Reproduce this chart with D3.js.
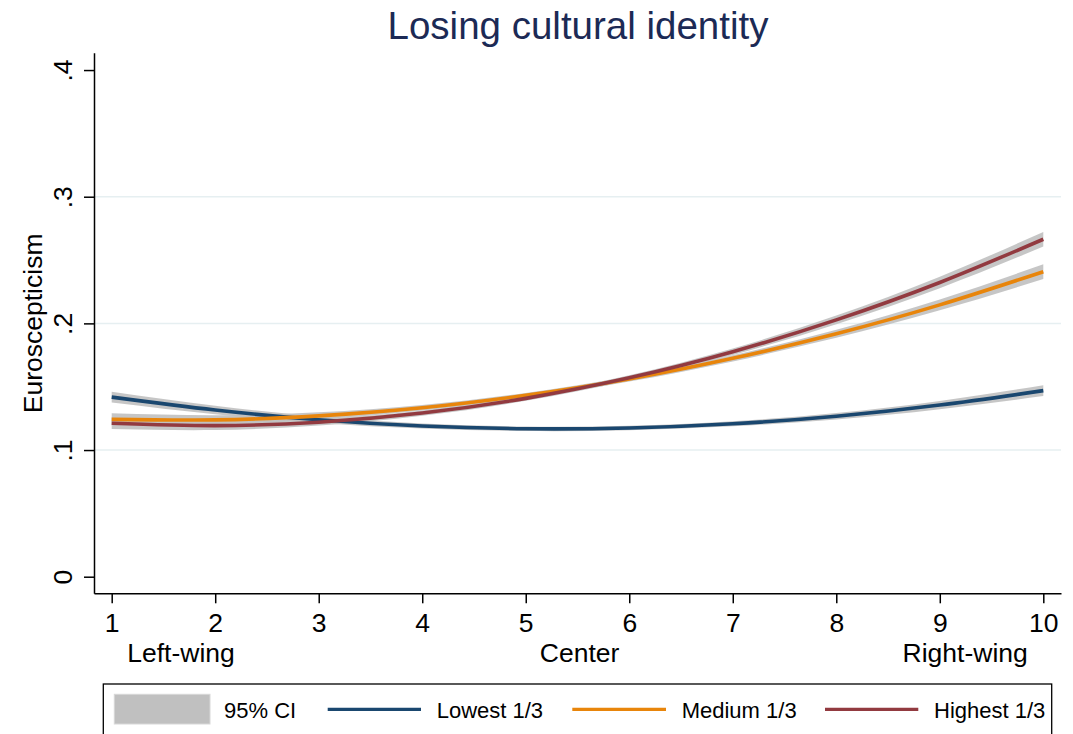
<!DOCTYPE html>
<html>
<head>
<meta charset="utf-8">
<script src="https://cdn.jsdelivr.net/npm/d3@7"></script>
<style>
  html, body { margin: 0; padding: 0; background: #fff; }
  svg { display: block; font-family: "Liberation Sans", Arial, Helvetica, sans-serif; }
</style>
</head>
<body>
<svg id="chart" width="1073" height="734"></svg>
<script>
// Ideology scale positions
const positions = [1, 2, 3, 4, 5, 6, 7, 8, 9, 10];

// Predicted euroscepticism by tercile of "losing cultural identity" concern
const lowest  = [0.1418, 0.1316, 0.1239, 0.1190, 0.1168, 0.1174, 0.1207, 0.1267, 0.1355, 0.1469];
const medium  = [0.1242, 0.1238, 0.1270, 0.1334, 0.1432, 0.1561, 0.1724, 0.1918, 0.2146, 0.2408];
const highest = [0.1211, 0.1193, 0.1220, 0.1292, 0.1408, 0.1570, 0.1776, 0.2028, 0.2323, 0.2664];

// Half-widths of the 95% confidence intervals
const lowestCI  = [0.0042, 0.0033, 0.0025, 0.0020, 0.0018, 0.0018, 0.0020, 0.0025, 0.0032, 0.0043];
const mediumCI  = [0.0048, 0.0037, 0.0028, 0.0022, 0.0019, 0.0020, 0.0024, 0.0032, 0.0043, 0.0058];
const highestCI = [0.0045, 0.0035, 0.0027, 0.0021, 0.0019, 0.0020, 0.0025, 0.0034, 0.0045, 0.0058];

const seriesNames = ["Lowest 1/3", "Medium 1/3", "Highest 1/3"];
const seriesColors = ["#1a476f", "#e8850b", "#923a40"];
const yTicks = [0, 0.1, 0.2, 0.3, 0.4];
const gridTicks = [0.1, 0.2, 0.3];
const xEndLabels = ["Left-wing", "Center", "Right-wing"];
const titleText = "Losing cultural identity";
const yTitle = "Euroscepticism";
const ciLabel = "95% CI";

const series = [
  { name: seriesNames[0], color: seriesColors[0], values: lowest,  ci: lowestCI },
  { name: seriesNames[1], color: seriesColors[1], values: medium,  ci: mediumCI },
  { name: seriesNames[2], color: seriesColors[2], values: highest, ci: highestCI }
];

const axisFont = 26.5;
const svg = d3.select("#chart");

const x = d3.scaleLinear().domain([0.829, 10.171]).range([94, 1061]);
const y = d3.scaleLinear().domain([-0.0131, 0.4137]).range([593.3, 52.7]);

// Gridlines
svg.append("g")
  .selectAll("line")
  .data(gridTicks)
  .join("line")
  .attr("x1", 95).attr("x2", 1061)
  .attr("y1", d => y(d)).attr("y2", d => y(d))
  .attr("stroke", "#e6eff1")
  .attr("stroke-width", 1.5);

// Confidence bands
const area = d3.area()
  .x((d, i) => x(positions[i]))
  .y0(d => y(d[0]))
  .y1(d => y(d[1]))
  .curve(d3.curveNatural);

const bands = svg.append("g");
series.forEach(s => {
  const pts = s.values.map((v, i) => [v - s.ci[i], v + s.ci[i]]);
  bands.append("path")
    .datum(pts)
    .attr("d", area)
    .attr("fill", "#c0c0c0")
    .attr("fill-opacity", 0.9);
});

// Lines
const line = d3.line()
  .x((d, i) => x(positions[i]))
  .y(d => y(d))
  .curve(d3.curveNatural);

const lines = svg.append("g");
series.forEach(s => {
  lines.append("path")
    .datum(s.values)
    .attr("d", line)
    .attr("fill", "none")
    .attr("stroke", s.color)
    .attr("stroke-width", 3.6);
});

// Y axis
const yAxis = svg.append("g")
  .attr("transform", "translate(94,0)")
  .call(d3.axisLeft(y).tickValues(yTicks).tickSize(10).tickSizeOuter(0)
    .tickFormat(d => d === 0 ? "0" : d3.format(".1f")(d).replace(/^0/, "")));
yAxis.select(".domain").attr("stroke", "#000").attr("stroke-width", 1.5);
yAxis.selectAll(".tick line").attr("stroke", "#000").attr("stroke-width", 1.5);
yAxis.selectAll(".tick text")
  .attr("transform", "rotate(-90)")
  .attr("x", 0).attr("y", -22).attr("dy", 0)
  .attr("text-anchor", "middle")
  .attr("font-size", axisFont)
  .attr("font-family", "Liberation Sans, Arial, sans-serif")
  .attr("fill", "#000");

// X axis
const xAxis = svg.append("g")
  .attr("transform", "translate(0,593.3)")
  .call(d3.axisBottom(x).tickValues(positions).tickSize(10).tickSizeOuter(0).tickFormat(d3.format("d")));
xAxis.select(".domain").attr("stroke", "#000").attr("stroke-width", 1.5);
xAxis.selectAll(".tick line").attr("stroke", "#000").attr("stroke-width", 1.5);
xAxis.selectAll(".tick text")
  .attr("y", 39).attr("dy", 0)
  .attr("font-size", axisFont)
  .attr("font-family", "Liberation Sans, Arial, sans-serif")
  .attr("fill", "#000");

// Ideology labels under the x axis
const endLabelG = svg.append("g")
  .attr("font-size", axisFont)
  .attr("fill", "#000");
endLabelG.append("text").attr("x", x(1.15)).attr("y", 662.3).attr("text-anchor", "start").text(xEndLabels[0]);
endLabelG.append("text").attr("x", x(5.52)).attr("y", 662.3).attr("text-anchor", "middle").text(xEndLabels[1]);
endLabelG.append("text").attr("x", x(9.85)).attr("y", 662.3).attr("text-anchor", "end").text(xEndLabels[2]);

// Y axis title
svg.append("text")
  .attr("transform", `translate(42,${y(0.2)}) rotate(-90)`)
  .attr("text-anchor", "middle")
  .attr("font-size", axisFont)
  .attr("fill", "#000")
  .text(yTitle);

// Title
svg.append("text")
  .attr("x", 578).attr("y", 39)
  .attr("text-anchor", "middle")
  .attr("font-size", 38.5)
  .attr("fill", "#1c2a55")
  .text(titleText);

// Legend
const legend = svg.append("g").attr("font-size", 22).attr("fill", "#000");
legend.append("rect")
  .attr("x", 103.3).attr("y", 684).attr("width", 948.4).attr("height", 60)
  .attr("fill", "#fff").attr("stroke", "#000").attr("stroke-width", 1.3);
legend.append("rect")
  .attr("x", 114.3).attr("y", 694.3).attr("width", 95.7).attr("height", 29.7)
  .attr("fill", "#c0c0c0").attr("stroke", "#d8d8d8").attr("stroke-width", 1);
legend.append("text").attr("x", 224).attr("y", 718).text(ciLabel);

const legendItems = [
  { x1: 327.7, x2: 421, tx: 436.7 },
  { x1: 572.3, x2: 666, tx: 681.7 },
  { x1: 825, x2: 918.3, tx: 934 }
];
series.forEach((s, i) => {
  const it = legendItems[i];
  legend.append("line")
    .attr("x1", it.x1).attr("x2", it.x2)
    .attr("y1", 709.3).attr("y2", 709.3)
    .attr("stroke", s.color).attr("stroke-width", 3.3);
  legend.append("text").attr("x", it.tx).attr("y", 718).text(s.name);
});
</script>
</body>
</html>
